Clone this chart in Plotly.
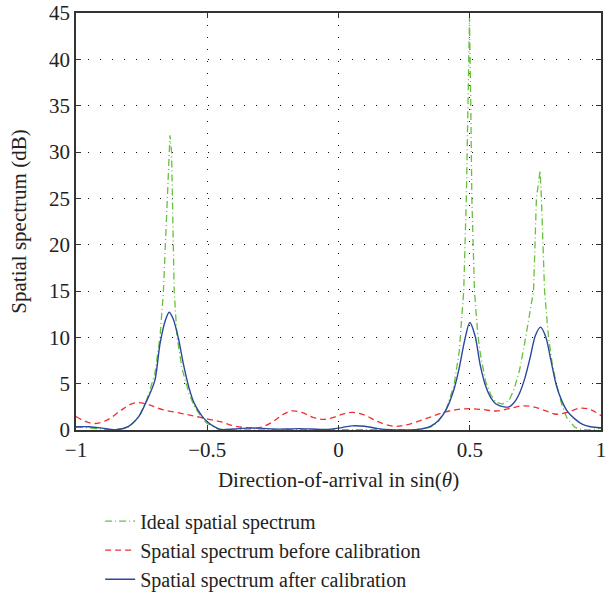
import plotly.graph_objects as go

# ---- data ----
ideal_x = [-1.00, -0.95, -0.90, -0.85, -0.80, -0.76, -0.73, -0.70, -0.68, -0.667, -0.652, -0.646, -0.642,
           -0.636, -0.633, -0.626, -0.615, -0.595, -0.57, -0.55, -0.52, -0.50, -0.46, -0.40, -0.30, -0.20,
           -0.10, 0.00, 0.10, 0.20, 0.30, 0.35, 0.38, 0.41, 0.44, 0.46, 0.477, 0.487, 0.493, 0.499, 0.504,
           0.508, 0.518, 0.53, 0.54, 0.56, 0.58, 0.60, 0.625, 0.65, 0.67, 0.69, 0.71, 0.73, 0.743, 0.754,
           0.768, 0.773, 0.785, 0.80, 0.815, 0.83, 0.85, 0.87, 0.90, 0.93, 0.96, 0.98, 1.00]
ideal_y = [0.30, 0.25, 0.10, 0.00, 0.30, 1.4, 3.3, 6.0, 10.0, 15.0, 25.0, 30.0, 31.8,
           30.0, 25.0, 15.0, 10.0, 6.5, 4.0, 2.6, 1.3, 0.7, 0.1, 0.02, 0.02, 0.02,
           0.02, 0.02, 0.02, 0.02, 0.05, 0.3, 0.9, 2.2, 4.8, 8.5, 15.0, 25.0, 35.0, 44.5, 35.0,
           25.0, 15.0, 10.5, 8.3, 5.3, 3.8, 3.0, 2.8, 3.2, 4.5, 6.5, 9.5, 13.0, 15.0, 25.0,
           28.0, 25.0, 15.0, 10.0, 7.0, 5.0, 2.8, 1.3, 0.3, 0.0, 0.0, 0.1, 0.2]

before_x = [-1.00, -0.97, -0.93, -0.88, -0.83, -0.79, -0.76, -0.72, -0.67, -0.60, -0.55, -0.50, -0.45,
            -0.40, -0.35, -0.30, -0.25, -0.21, -0.18, -0.14, -0.10, -0.06, -0.02, 0.02, 0.055, 0.10,
            0.15, 0.21, 0.25, 0.30, 0.35, 0.40, 0.45, 0.50, 0.55, 0.60, 0.65, 0.70, 0.75, 0.80, 0.83,
            0.87, 0.92, 0.96, 1.00]
before_y = [1.45, 1.0, 0.7, 1.1, 2.1, 2.8, 2.95, 2.7, 2.2, 1.8, 1.5, 1.2, 0.9,
            0.45, 0.25, 0.25, 0.9, 1.7, 2.05, 1.9, 1.4, 1.15, 1.35, 1.75, 1.9, 1.6,
            0.9, 0.4, 0.5, 0.9, 1.4, 1.9, 2.2, 2.3, 2.2, 2.05, 2.3, 2.6, 2.45, 1.95, 1.7,
            1.9, 2.35, 2.2, 1.55]

after_x = [-1.00, -0.95, -0.90, -0.85, -0.80, -0.76, -0.73, -0.70, -0.68, -0.66, -0.645, -0.63, -0.61,
           -0.59, -0.57, -0.55, -0.52, -0.50, -0.47, -0.45, -0.40, -0.35, -0.30, -0.25, -0.20, -0.15,
           -0.10, -0.05, 0.00, 0.05, 0.10, 0.15, 0.20, 0.25, 0.30, 0.35, 0.38, 0.41, 0.44, 0.46, 0.48,
           0.50, 0.52, 0.54, 0.56, 0.58, 0.60, 0.63, 0.65, 0.67, 0.69, 0.71, 0.73, 0.75, 0.77, 0.79,
           0.81, 0.83, 0.85, 0.87, 0.90, 0.93, 0.96, 1.00]
after_y = [0.35, 0.35, 0.2, 0.02, 0.4, 1.5, 3.2, 5.3, 9.3, 11.8, 12.7, 12.0, 9.9,
           7.0, 4.6, 2.9, 1.5, 0.9, 0.3, 0.05, 0.1, 0.2, 0.2, 0.1, 0.1, 0.15,
           0.1, 0.05, 0.2, 0.45, 0.4, 0.15, 0.02, 0.0, 0.05, 0.4, 1.0, 2.2, 4.4, 6.7, 9.6,
           11.6, 10.2, 7.0, 4.8, 3.5, 2.8, 2.5, 2.5, 3.0, 4.0, 5.6, 7.8, 10.2, 11.1, 10.0,
           7.4, 4.8, 3.2, 2.1, 1.2, 0.6, 0.35, 0.25]

x_tickvals = [-1, -0.5, 0, 0.5, 1]
x_ticktext = ["\u22121", "\u22120.5", "0", "0.5", "1"]

names = ["Ideal spatial spectrum",
         "Spatial spectrum before calibration",
         "Spatial spectrum after calibration"]

SERIF = "Liberation Serif, Times New Roman, serif"

fig = go.Figure()
fig.add_trace(go.Scatter(x=ideal_x, y=ideal_y, mode="lines", name=names[0], legendgroup="a",
                         line=dict(color="#66c23a", width=1.3, dash="7px,3px,1px,3px")))
fig.add_trace(go.Scatter(x=before_x, y=before_y, mode="lines", name=names[1], legendgroup="b",
                         line=dict(color="#f03030", width=1.3, dash="6px,4px", shape="spline", smoothing=1.0)))
fig.add_trace(go.Scatter(x=after_x, y=after_y, mode="lines", name=names[2], legendgroup="c",
                         line=dict(color="#2b48a0", width=1.4, shape="spline", smoothing=0.8)))

fig.update_layout(
    width=607, height=592,
    margin=dict(l=76, r=6, t=13, b=162, autoexpand=False),
    paper_bgcolor="white", plot_bgcolor="white",
    font=dict(family=SERIF, size=21, color="#222"),
    showlegend=True,
    legend=dict(x=0.046, y=-0.172, xanchor="left", yanchor="top",
                font=dict(family=SERIF, size=20, color="#222"),
                bgcolor="rgba(0,0,0,0)", borderwidth=0, tracegroupgap=0,
                itemwidth=30),
)
fig.update_xaxes(range=[-1, 1], tickvals=x_tickvals, ticktext=x_ticktext,
                 ticks="inside", ticklen=5, tickcolor="#333",
                 showline=True, linecolor="#333", linewidth=1.5, mirror="ticks",
                 showgrid=True, gridcolor="#111", gridwidth=1, griddash="1px,11px",
                 zeroline=False, tickfont=dict(size=21), ticklabeloverflow="allow",
                 title=dict(text="Direction-of-arrival in sin(<i>θ</i>)", font=dict(size=21), standoff=11))
fig.update_yaxes(range=[0, 45], dtick=5,
                 ticks="inside", ticklen=5, tickcolor="#333",
                 showline=True, linecolor="#333", linewidth=1.5, mirror="ticks",
                 showgrid=True, gridcolor="#111", gridwidth=1, griddash="1px,11px",
                 zeroline=False, tickfont=dict(size=21),
                 title=dict(text="Spatial spectrum (dB)", font=dict(size=21), standoff=17))

fig.write_html("out.html")
